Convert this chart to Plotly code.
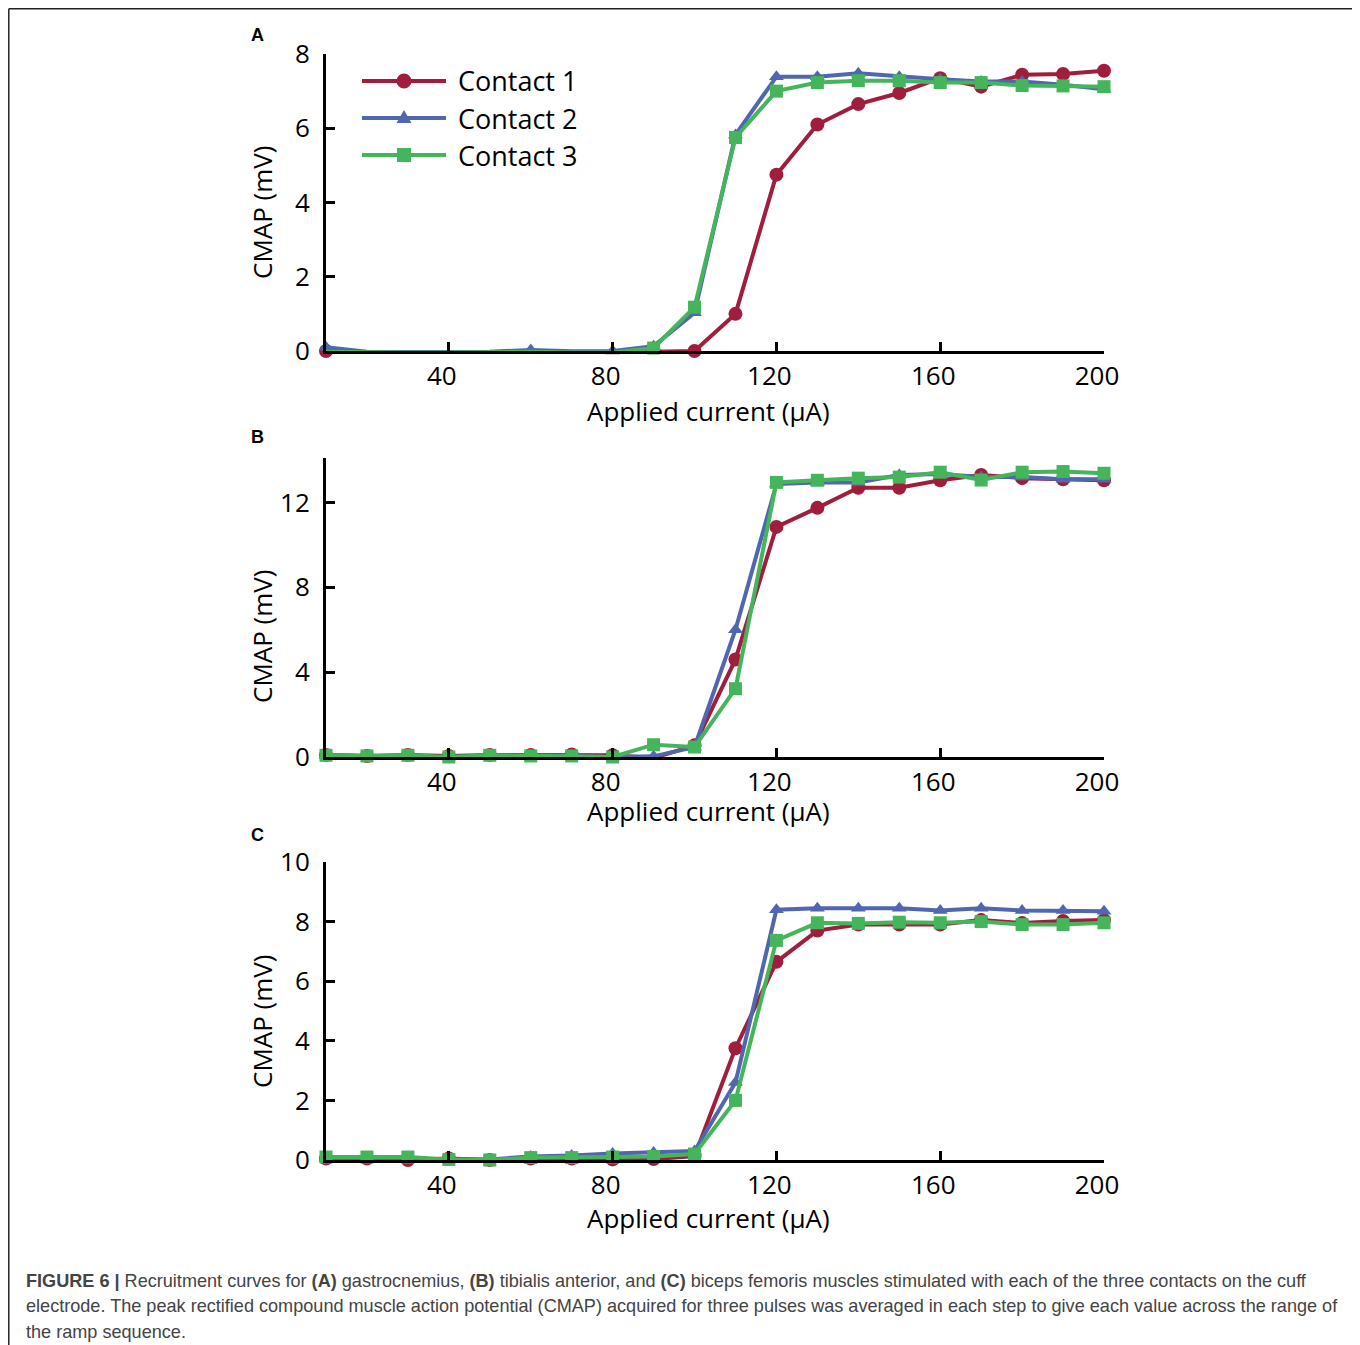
import plotly.graph_objects as go

# page body has an 8px margin; size the figure so it fits the 1360x1345 window
OFF = 8
W, H = 1360 - OFF, 1345 - OFF

# ---------------- data ----------------
current = [10, 20, 30, 40, 50, 60, 70, 80, 90, 100, 110, 120, 130, 140, 150, 160, 170, 180, 190, 200]
series_names = ["Contact 1", "Contact 2", "Contact 3"]
x_tick_vals = [40, 80, 120, 160, 200]

a_c1 = [0.0, -0.03, -0.03, -0.03, -0.03, -0.05, -0.03, -0.03, -0.02, 0.0, 1.0, 4.75, 6.1, 6.65, 6.95, 7.35, 7.12, 7.44, 7.46, 7.55]
a_c2 = [0.1, -0.02, -0.03, -0.02, -0.02, 0.03, -0.01, 0.0, 0.13, 1.03, 5.82, 7.39, 7.39, 7.48, 7.39, 7.32, 7.26, 7.26, 7.17, 7.05]
a_c3 = [-0.02, -0.04, -0.04, -0.04, -0.03, -0.02, -0.04, -0.04, 0.08, 1.18, 5.75, 7.0, 7.23, 7.28, 7.28, 7.23, 7.23, 7.15, 7.14, 7.12]

b_c1 = [0.1, 0.05, 0.1, 0.05, 0.1, 0.1, 0.12, 0.08, -0.05, 0.55, 4.6, 10.85, 11.75, 12.7, 12.7, 13.05, 13.3, 13.15, 13.1, 13.05]
b_c2 = [0.08, 0.05, 0.05, 0.0, 0.05, 0.08, 0.05, 0.0, 0.03, 0.47, 6.0, 12.87, 12.95, 12.95, 13.3, 13.35, 13.2, 13.2, 13.1, 13.1]
b_c3 = [0.08, 0.05, 0.08, 0.0, 0.08, 0.05, 0.05, 0.0, 0.58, 0.47, 3.22, 12.95, 13.05, 13.15, 13.2, 13.43, 13.06, 13.43, 13.46, 13.38]

c_c1 = [0.05, 0.05, 0.0, 0.05, 0.0, 0.05, 0.05, 0.02, 0.03, 0.13, 3.75, 6.65, 7.7, 7.9, 7.9, 7.9, 8.05, 7.95, 8.02, 8.05]
c_c2 = [0.05, 0.05, 0.05, 0.02, 0.02, 0.12, 0.15, 0.22, 0.25, 0.3, 2.6, 8.4, 8.45, 8.45, 8.45, 8.37, 8.45, 8.37, 8.37, 8.35]
c_c3 = [0.1, 0.1, 0.1, 0.02, 0.0, 0.08, 0.08, 0.1, 0.12, 0.2, 2.0, 7.37, 7.96, 7.94, 7.98, 7.96, 8.0, 7.9, 7.9, 7.96]

y_ranges = [[0, 8], [0, 14.1], [0, 10]]
y_dticks = [2, 4, 2]
panel_labels = ["A", "B", "C"]

# ---------------- styling ----------------
colors = ["#A01E3C", "#5066B0", "#44B55A"]
symbols = ["circle", "triangle-up", "square"]
msizes = [14, 13, 13]
FONT = "Open Sans"


def px(x):
    return (x - OFF) / W


def py(y):
    return 1 - (y - OFF) / H


x_dom = [px(326), px(1104)]
y_doms = [[py(351), py(54)], [py(757), py(458)], [py(1160), py(862)]]

fig = go.Figure()
panels = [(a_c1, a_c2, a_c3), (b_c1, b_c2, b_c3), (c_c1, c_c2, c_c3)]
for i, vals in enumerate(panels):
    sfx = "" if i == 0 else str(i + 1)
    for j, v in enumerate(vals):
        fig.add_trace(go.Scatter(
            x=current, y=v, mode="lines+markers", name=series_names[j],
            showlegend=False, cliponaxis=False,
            line=dict(color=colors[j], width=4),
            marker=dict(symbol=symbols[j], size=msizes[j], color=colors[j], line=dict(width=0)),
            xaxis="x" + sfx, yaxis="y" + sfx,
        ))

axis_common = dict(
    showline=True, linewidth=3, linecolor="black", ticks="inside", ticklen=9,
    tickwidth=3, tickcolor="black", showgrid=False, zeroline=False, automargin=False,
    tickfont=dict(family=FONT, size=26, color="black"),
)

layout = dict(
    width=W, height=H, margin=dict(l=0, r=0, t=0, b=0, pad=0, autoexpand=False),
    paper_bgcolor="white", plot_bgcolor="white", showlegend=False,
)
for i in range(3):
    sfx = "" if i == 0 else str(i + 1)
    layout["xaxis" + sfx] = dict(domain=x_dom, range=[10, 200], tickvals=x_tick_vals,
                                 anchor="y" + sfx, ticklabelshift=-7, **axis_common)
    layout["yaxis" + sfx] = dict(domain=y_doms[i], range=y_ranges[i], dtick=y_dticks[i],
                                 tick0=0, anchor="x" + sfx, ticklabelstandoff=8, **axis_common)
fig.update_layout(**layout)

# axis titles and panel labels
xt_y = [411, 811, 1218]
yt_y = [212, 636, 1021]
pl_y = [35, 437, 835]
for i in range(3):
    fig.add_annotation(x=px(708), y=py(xt_y[i]), xref="paper", yref="paper",
                       text="Applied current (μA)", showarrow=False,
                       font=dict(family=FONT, size=26, color="black"),
                       xanchor="center", yanchor="middle")
    fig.add_annotation(x=px(262), y=py(yt_y[i]), xref="paper", yref="paper",
                       text="CMAP (mV)", showarrow=False, textangle=-90,
                       font=dict(family=FONT, size=26, color="black"),
                       xanchor="center", yanchor="middle")
    fig.add_annotation(x=px(257), y=py(pl_y[i]), xref="paper", yref="paper",
                       text="<b>" + panel_labels[i] + "</b>", showarrow=False,
                       font=dict(family="Liberation Sans", size=18, color="black"),
                       xanchor="center", yanchor="middle")

# custom legend (line swatch + marker + text)
leg_y = [81, 118, 155]
for j in range(3):
    yy = leg_y[j]
    fig.add_shape(type="line", xref="paper", yref="paper",
                  x0=px(362), x1=px(446), y0=py(yy), y1=py(yy),
                  line=dict(color=colors[j], width=4))
    cx = 404
    if j == 0:
        r = 7.5
        fig.add_shape(type="circle", xref="paper", yref="paper",
                      x0=px(cx - r), x1=px(cx + r), y0=py(yy + r), y1=py(yy - r),
                      fillcolor=colors[j], line=dict(width=0))
    elif j == 1:
        path = "M {:.5f} {:.5f} L {:.5f} {:.5f} L {:.5f} {:.5f} Z".format(
            px(cx - 7.5), py(yy + 5), px(cx + 7.5), py(yy + 5), px(cx), py(yy - 8))
        fig.add_shape(type="path", xref="paper", yref="paper", path=path,
                      fillcolor=colors[j], line=dict(width=0))
    else:
        s = 7
        fig.add_shape(type="rect", xref="paper", yref="paper",
                      x0=px(cx - s), x1=px(cx + s), y0=py(yy + s), y1=py(yy - s),
                      fillcolor=colors[j], line=dict(width=0))
    fig.add_annotation(x=px(456), y=py(yy), xref="paper", yref="paper",
                       text=series_names[j], showarrow=False,
                       font=dict(family=FONT, size=27, color="black"),
                       xanchor="left", yanchor="middle")

# frame lines
fig.add_shape(type="line", xref="paper", yref="paper", x0=px(8.8), x1=px(1356), y0=py(8.8), y1=py(8.8),
              line=dict(color="#222222", width=1.5))
fig.add_shape(type="line", xref="paper", yref="paper", x0=px(8.8), x1=px(8.8), y0=py(8.8), y1=py(1350),
              line=dict(color="#222222", width=1.5))
fig.add_shape(type="line", xref="paper", yref="paper", x0=px(1355), x1=px(1355), y0=py(8.8), y1=py(1350),
              line=dict(color="#9a9a9a", width=2))

# caption
cap_lines = [
    "<b>FIGURE 6 |</b> Recruitment curves for <b>(A)</b> gastrocnemius, <b>(B)</b> tibialis anterior, and <b>(C)</b> biceps femoris muscles stimulated with each of the three contacts on the cuff",
    "electrode. The peak rectified compound muscle action potential (CMAP) acquired for three pulses was averaged in each step to give each value across the range of",
    "the ramp sequence.",
]
cap_y = [1281, 1306, 1332]
for k, t in enumerate(cap_lines):
    fig.add_annotation(x=px(24), y=py(cap_y[k]), xref="paper", yref="paper",
                       text=t, showarrow=False, align="left",
                       font=dict(family="Liberation Sans", size=18.1, color="#444444"),
                       xanchor="left", yanchor="middle")

fig.write_html("out.html")
